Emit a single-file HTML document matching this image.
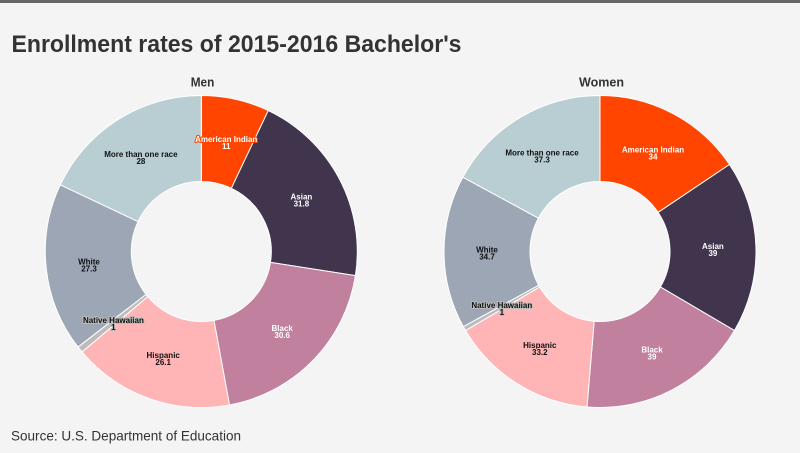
<!DOCTYPE html>
<html>
<head>
<meta charset="utf-8">
<style>
  html, body { margin: 0; padding: 0; background: #f4f4f4; }
  body { width: 800px; height: 453px; overflow: hidden; }
  svg { display: block; }
  .lbl { font-family: "Liberation Sans", sans-serif; font-weight: bold; font-size: 8px; text-anchor: middle; paint-order: stroke; stroke-width: 2; stroke-linejoin: round; }
</style>
</head>
<body>
<svg width="800" height="453" viewBox="0 0 800 453" xmlns="http://www.w3.org/2000/svg">
  <rect x="0" y="0" width="800" height="453" fill="#f4f4f4"/>
  <rect x="0" y="0" width="800" height="3" fill="#666666"/>

  <text x="11.5" y="52" font-family="Liberation Sans, sans-serif" font-weight="bold" font-size="24" fill="#333333" textLength="450" lengthAdjust="spacingAndGlyphs">Enrollment rates of 2015-2016 Bachelor's</text>

  <text x="202.5" y="86.7" font-family="Liberation Sans, sans-serif" font-weight="bold" font-size="13" fill="#333333" text-anchor="middle" textLength="23.6" lengthAdjust="spacingAndGlyphs">Men</text>
  <text x="601.5" y="86.7" font-family="Liberation Sans, sans-serif" font-weight="bold" font-size="13" fill="#333333" text-anchor="middle" textLength="45" lengthAdjust="spacingAndGlyphs">Women</text>

  <!-- Men donut -->
  <g stroke="#ffffff" stroke-width="1" stroke-linejoin="round">
    <path d="M201.3,95.5 A156,156 0 0 1 268.26,110.60 L231.34,188.28 A70,70 0 0 0 201.3,181.5 Z" fill="#ff4500"/>
    <path d="M268.26,110.60 A156,156 0 0 1 355.42,275.62 L270.46,262.32 A70,70 0 0 0 231.34,188.28 Z" fill="#41344d"/>
    <path d="M355.42,275.62 A156,156 0 0 1 229.45,404.94 L213.93,320.35 A70,70 0 0 0 270.46,262.32 Z" fill="#c1809e"/>
    <path d="M229.45,404.94 A156,156 0 0 1 81.96,351.96 L147.75,296.58 A70,70 0 0 0 213.93,320.35 Z" fill="#ffb4b5"/>
    <path d="M81.96,351.96 A156,156 0 0 1 78.00,347.07 L145.97,294.38 A70,70 0 0 0 147.75,296.58 Z" fill="#bcbcbc"/>
    <path d="M78.00,347.07 A156,156 0 0 1 60.26,184.83 L138.01,221.58 A70,70 0 0 0 145.97,294.38 Z" fill="#9da6b5"/>
    <path d="M60.26,184.83 A156,156 0 0 1 201.3,95.5 L201.3,181.5 A70,70 0 0 0 138.01,221.58 Z" fill="#b9ced3"/>
  </g>

  <!-- Women donut -->
  <g stroke="#ffffff" stroke-width="1" stroke-linejoin="round">
    <path d="M600,95.5 A156,156 0 0 1 729.48,164.48 L658.10,212.45 A70,70 0 0 0 600,181.5 Z" fill="#ff4500"/>
    <path d="M729.48,164.48 A156,156 0 0 1 734.50,330.54 L660.35,286.97 A70,70 0 0 0 658.10,212.45 Z" fill="#41344d"/>
    <path d="M734.50,330.54 A156,156 0 0 1 586.99,406.96 L594.16,321.26 A70,70 0 0 0 660.35,286.97 Z" fill="#c1809e"/>
    <path d="M586.99,406.96 A156,156 0 0 1 465.50,330.54 L539.65,286.97 A70,70 0 0 0 594.16,321.26 Z" fill="#ffb4b5"/>
    <path d="M465.50,330.54 A156,156 0 0 1 463.28,326.63 L538.65,285.21 A70,70 0 0 0 539.65,286.97 Z" fill="#bcbcbc"/>
    <path d="M463.28,326.63 A156,156 0 0 1 462.85,177.16 L538.46,218.14 A70,70 0 0 0 538.65,285.21 Z" fill="#9da6b5"/>
    <path d="M462.85,177.16 A156,156 0 0 1 600,95.5 L600,181.5 A70,70 0 0 0 538.46,218.14 Z" fill="#b9ced3"/>
  </g>

  <!-- Men labels -->
  <text class="lbl" fill="#ffffff" stroke="#ff4500"><tspan x="226.2" y="142.0">American Indian</tspan><tspan x="226.2" y="149.0">11</tspan></text>
  <text class="lbl" fill="#ffffff" stroke="#41344d"><tspan x="301.4" y="199.4">Asian</tspan><tspan x="301.4" y="206.4">31.8</tspan></text>
  <text class="lbl" fill="#ffffff" stroke="#c1809e"><tspan x="282.2" y="331.1">Black</tspan><tspan x="282.2" y="338.1">30.6</tspan></text>
  <text class="lbl" fill="#111111" stroke="#ffb4b5"><tspan x="163.2" y="357.8">Hispanic</tspan><tspan x="163.2" y="364.8">26.1</tspan></text>
  <text class="lbl" fill="#111111" stroke="#bcbcbc"><tspan x="113.4" y="322.8">Native Hawaiian</tspan><tspan x="113.4" y="329.8">1</tspan></text>
  <text class="lbl" fill="#111111" stroke="#9da6b5"><tspan x="89.0" y="264.4">White</tspan><tspan x="89.0" y="271.4">27.3</tspan></text>
  <text class="lbl" fill="#111111" stroke="#b9ced3"><tspan x="140.9" y="156.9">More than one race</tspan><tspan x="140.9" y="163.9">28</tspan></text>

  <!-- Women labels -->
  <text class="lbl" fill="#ffffff" stroke="#ff4500"><tspan x="653.0" y="152.6">American Indian</tspan><tspan x="653.0" y="159.6">34</tspan></text>
  <text class="lbl" fill="#ffffff" stroke="#41344d"><tspan x="712.9" y="248.8">Asian</tspan><tspan x="712.9" y="255.8">39</tspan></text>
  <text class="lbl" fill="#ffffff" stroke="#c1809e"><tspan x="652.0" y="352.5">Black</tspan><tspan x="652.0" y="359.5">39</tspan></text>
  <text class="lbl" fill="#111111" stroke="#ffb4b5"><tspan x="539.8" y="347.8">Hispanic</tspan><tspan x="539.8" y="354.8">33.2</tspan></text>
  <text class="lbl" fill="#111111" stroke="#bcbcbc"><tspan x="501.8" y="308.0">Native Hawaiian</tspan><tspan x="501.8" y="315.0">1</tspan></text>
  <text class="lbl" fill="#111111" stroke="#9da6b5"><tspan x="487.0" y="252.5">White</tspan><tspan x="487.0" y="259.5">34.7</tspan></text>
  <text class="lbl" fill="#111111" stroke="#b9ced3"><tspan x="542.0" y="155.5">More than one race</tspan><tspan x="542.0" y="162.5">37.3</tspan></text>

  <text x="11" y="440.5" font-family="Liberation Sans, sans-serif" font-size="14" fill="#333333" textLength="230" lengthAdjust="spacingAndGlyphs">Source: U.S. Department of Education</text>
</svg>
</body>
</html>
